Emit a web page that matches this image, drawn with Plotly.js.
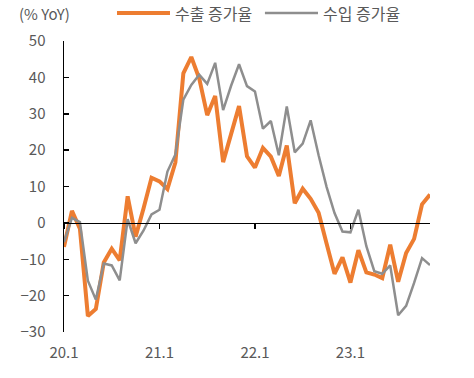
<!DOCTYPE html>
<html><head><meta charset="utf-8">
<script src="https://cdn.plot.ly/plotly-3.0.1.min.js"></script>
<style>html,body{margin:0;padding:0;background:#fff}#c{width:474px;height:378px}</style>
</head><body><div id="c"></div>
<script>
const months = [];
for (let y = 20; y <= 23; y++) for (let m = 1; m <= 12; m++) months.push(y + '.' + m);
const labels = months.slice(0, 47);
const exportGrowth = [-6.6, 3.3, -1.6, -25.6, -23.7, -10.9, -7.1, -10.3, 7.3, -3.8, 4.0, 12.4,
  11.4, 9.3, 16.6, 41.1, 45.6, 39.7, 29.6, 34.9, 16.7, 24.0, 32.1, 18.3,
  15.2, 20.6, 18.2, 12.9, 21.3, 5.4, 9.4, 6.6, 2.8, -5.7, -14.0, -9.5,
  -16.4, -7.5, -13.6, -14.2, -15.2, -6.0, -16.2, -8.3, -4.4, 5.1, 7.8];
const importGrowth = [-5.3, 1.4, 0.2, -15.9, -21.1, -11.2, -11.7, -15.8, 1.0, -5.6, -2.1, 2.3,
  3.6, 14.1, 18.8, 33.9, 37.9, 40.7, 38.2, 44.0, 31.0, 37.7, 43.6, 37.6,
  36.1, 25.9, 28.0, 18.6, 32.0, 19.4, 21.8, 28.2, 18.6, 9.9, 2.7, -2.4,
  -2.6, 3.6, -6.4, -13.3, -14.0, -11.7, -25.4, -22.8, -16.5, -9.7, -11.6];
const xTicks = ['20.1', '21.1', '22.1', '23.1'];
const seriesNames = ['수출 증가율', '수입 증가율'];
const colors = ['#ED7D31', '#8E8E8E'];

const fam = 'Noto Sans CJK KR, Noto Sans, sans-serif';
const txt = {family: fam, size: 15, color: '#595959'};
const data = [
  {x: labels, y: exportGrowth, type: 'scatter', mode: 'lines', name: seriesNames[0],
   line: {color: colors[0], width: 4}},
  {x: labels, y: importGrowth, type: 'scatter', mode: 'lines', name: seriesNames[1],
   line: {color: colors[1], width: 2.5}},
  {x: labels, y: importGrowth.map(() => null), xaxis: 'x2', showlegend: false, hoverinfo: 'skip'}
];
const ly = 1.096;
const layout = {
  width: 474, height: 378,
  margin: {l: 64, r: 44, t: 41, b: 46, autoexpand: false},
  paper_bgcolor: '#fff', plot_bgcolor: '#fff',
  font: txt,
  showlegend: false,
  xaxis: {type: 'category', range: [0, 46], tickmode: 'array', tickvals: xTicks, ticktext: xTicks,
          showgrid: false, zeroline: false, showline: false, ticks: '', ticklabelstandoff: 10,
          tickfont: txt},
  xaxis2: {type: 'category', range: [0, 46], overlaying: 'x', anchor: 'free', position: 0.375,
           side: 'bottom', tickmode: 'array', tickvals: xTicks, showticklabels: false,
           showline: true, linecolor: '#000', linewidth: 1.5, ticks: 'outside', ticklen: 5,
           tickcolor: '#000', tickwidth: 1.5, showgrid: false, zeroline: false},
  yaxis: {range: [-30, 50], dtick: 10, showgrid: false, zeroline: false, showline: true,
          linecolor: '#000', linewidth: 1.5, ticks: 'inside', ticklen: 5, tickcolor: '#000', tickwidth: 1.5,
          ticklabelstandoff: 14, tickfont: txt},
  shapes: [
    {type: 'line', xref: 'paper', yref: 'paper', x0: 0.1448, x1: 0.2896, y0: ly, y1: ly,
     line: {color: colors[0], width: 4}},
    {type: 'line', xref: 'paper', yref: 'paper', x0: 0.549, x1: 0.694, y0: ly, y1: ly,
     line: {color: colors[1], width: 2.5}}
  ],
  annotations: [
    {text: '(% YoY)', xref: 'paper', yref: 'paper', x: -0.128, y: ly, xanchor: 'left',
     yanchor: 'middle', showarrow: false, font: txt},
    {text: seriesNames[0], xref: 'paper', yref: 'paper', x: 0.298, y: ly, xanchor: 'left',
     yanchor: 'middle', showarrow: false, font: {family: fam, size: 16, color: '#595959'}},
    {text: seriesNames[1], xref: 'paper', yref: 'paper', x: 0.702, y: ly, xanchor: 'left',
     yanchor: 'middle', showarrow: false, font: {family: fam, size: 16, color: '#595959'}}
  ]
};
Plotly.newPlot('c', data, layout, {staticPlot: true});
</script></body></html>
